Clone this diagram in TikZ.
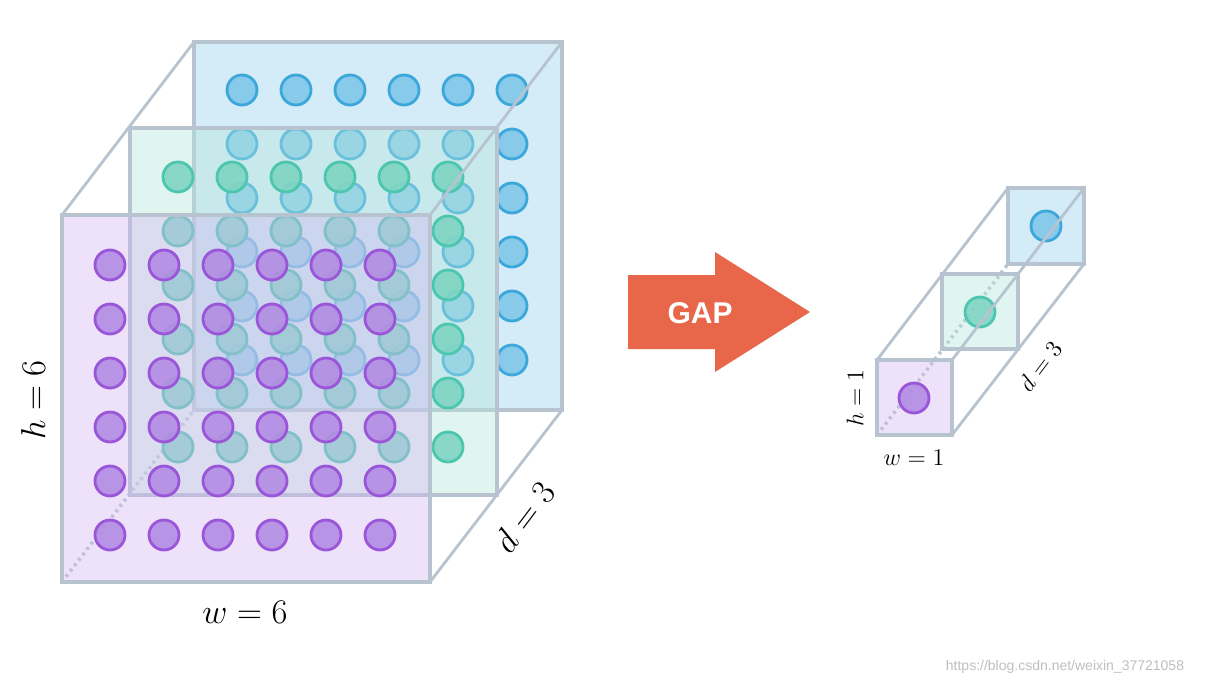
\documentclass[tikz,border=0pt]{standalone}
\usepackage{fontspec}
\newfontfamily\gapfont{Liberation Sans}
\usetikzlibrary{positioning}
\definecolor{edgegray}{HTML}{B7C3CF}
\definecolor{pface}{HTML}{D2B8F2}
\definecolor{gface}{HTML}{B5E6DB}
\definecolor{bface}{HTML}{C9E8F6}
\definecolor{pdot}{HTML}{B28CE3}
\definecolor{pline}{HTML}{9A55D8}
\definecolor{gdot}{HTML}{80D5C3}
\definecolor{gline}{HTML}{4CC6AE}
\definecolor{bdot}{HTML}{80C7E8}
\definecolor{bline}{HTML}{3BA7DB}
\definecolor{gaporange}{HTML}{E8664A}
\tikzset{
  face/.style={draw=edgegray, line width=1.6pt, fill opacity=0.4},
  frame/.style={draw=edgegray, line width=1.4pt},
  pball/.style={fill=pdot, draw=pline, line width=1.4pt, fill opacity=0.9},
  gball/.style={fill=gdot, draw=gline, line width=1.4pt, fill opacity=0.9},
  bball/.style={fill=bdot, draw=bline, line width=1.4pt, fill opacity=0.9},
  dimlabel/.style={font=\fontsize{19}{22}\selectfont},
  smalllabel/.style={font=\fontsize{12}{14}\selectfont}
}
\begin{document}
\begin{tikzpicture}[x=0.5pt,y=-0.5pt]
  \useasboundingbox[fill=white] (0,0) rectangle (1210,686);
  % big cube, back to front
  \draw[frame, dotted, line width=1.8pt] (62,582) -- (194,410);
  \filldraw[face, fill=bface, fill opacity=0.8] (194,42) rectangle (562,410);
  \foreach \i in {0,...,5} \foreach \j in {0,...,5}
    \filldraw[bball] (242+54*\i,90+54*\j) circle (15);
  \filldraw[face, fill=gface] (130,128) rectangle (497,495);
  \foreach \i in {0,...,5} \foreach \j in {0,...,5}
    \filldraw[gball] (178+54*\i,177+54*\j) circle (15);
  \filldraw[face, fill=pface] (62,215) rectangle (430,582);
  \foreach \i in {0,...,5} \foreach \j in {0,...,5}
    \filldraw[pball] (110+54*\i,265+54*\j) circle (15);
  \draw[frame] (62,215) -- (194,42) (430,215) -- (562,42) (430,582) -- (562,410);
  \node[dimlabel, rotate=90] (hbig) at (33,400) {$h=6$};
  \node[dimlabel] (wbig) at (245,612) {$w=6$};
  \node[dimlabel, rotate=53] (dbig) at (524,517) {$d=3$};
  % GAP arrow
  \fill[gaporange] (628,275) -- (715,275) -- (715,252) -- (810,312)
    -- (715,372) -- (715,349) -- (628,349) -- cycle;
  \node[text=white, font=\gapfont\bfseries\fontsize{15}{18}\selectfont] (gap) at (700,313) {GAP};
  % small cube
  \draw[frame, dotted, line width=1.8pt] (877,435) -- (1008,264);
  \filldraw[face, fill=bface, fill opacity=0.8] (1008,188) rectangle (1084,264);
  \filldraw[bball] (1046,226) circle (15);
  \filldraw[face, fill=gface] (942,274) rectangle (1018,349);
  \filldraw[gball] (980,312) circle (15);
  \filldraw[face, fill=pface] (877,360) rectangle (952,435);
  \filldraw[pball] (914,398) circle (15);
  \draw[frame] (877,360) -- (1008,188) (952,360) -- (1084,188) (952,435) -- (1084,264);
  \node[smalllabel, rotate=90] (hsmall) at (855,398) {$h=1$};
  \node[smalllabel] (wsmall) at (914,458) {$w=1$};
  \node[smalllabel, rotate=53] (dsmall) at (1040,366) {$d=3$};
  \node[text=black!25, font=\gapfont\fontsize{7}{8}\selectfont] (mark) at (1065,667) {https://blog.csdn.net/weixin\_37721058};
\end{tikzpicture}
\end{document}
